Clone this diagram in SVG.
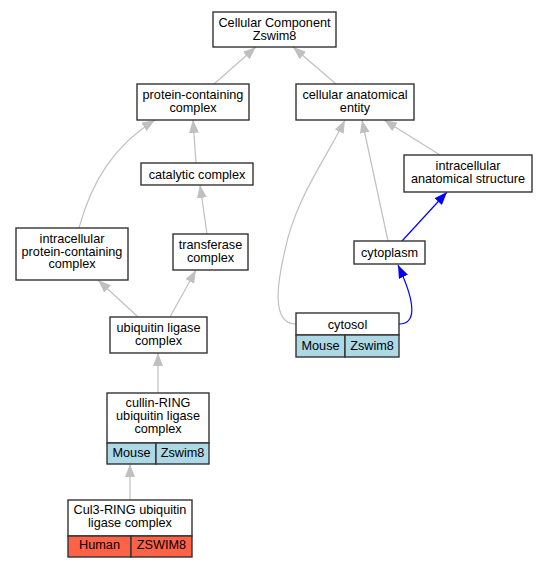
<svg xmlns="http://www.w3.org/2000/svg" width="548" height="568" viewBox="0 0 548 568">
<defs>
<style>
.n rect{fill:#fff;stroke:#333;stroke-width:1.4}
.n rect.m{fill:#add8e6}
.n rect.h{fill:#ff6347}
text{font-family:"Liberation Sans",Arial,sans-serif;font-size:12.7px;text-anchor:middle;fill:#000}
.e path{fill:none;stroke:#c0c0c0;stroke-width:1.2}
.e path.b{stroke:#0000ff}
</style>
<marker id="ag" markerUnits="userSpaceOnUse" viewBox="0 0 13 10" refX="13" refY="5" markerWidth="13" markerHeight="10" orient="auto"><path d="M0,0L13,5L0,10z" fill="#c0c0c0"/></marker>
<marker id="ab" markerUnits="userSpaceOnUse" viewBox="0 0 13 10" refX="13" refY="5" markerWidth="13" markerHeight="10" orient="auto"><path d="M0,0L13,5L0,10z" fill="#0000ff"/></marker>
</defs>
<rect width="548" height="568" fill="#fff"/>
<g class="e" id="edges">
<path d="M214,84L256,47" marker-end="url(#ag)"/>
<path d="M336,84L293,47" marker-end="url(#ag)"/>
<path d="M196,163L193,120" marker-end="url(#ag)"/>
<path d="M79,228C92,180 115,145 155,120" marker-end="url(#ag)"/>
<path d="M207,234L200,185" marker-end="url(#ag)"/>
<path d="M138,317L98,280" marker-end="url(#ag)"/>
<path d="M170,317L196,270" marker-end="url(#ag)"/>
<path d="M158,393L158,353" marker-end="url(#ag)"/>
<path d="M130,500L130,464" marker-end="url(#ag)"/>
<path d="M296,324C270,324 278,280 285,250C295,200 325,160 345,120" marker-end="url(#ag)"/>
<path d="M388,241L362,120" marker-end="url(#ag)"/>
<path d="M440,155L384,120" marker-end="url(#ag)"/>
<path class="b" d="M402,241L447,192" marker-end="url(#ab)"/>
<path class="b" d="M399,324C420,324 412,295 398,265" marker-end="url(#ab)"/>
</g>
<g class="n" id="n_cc"><rect x="213" y="12" width="123" height="35"/><text x="274.5" y="26.5">Cellular Component</text><text x="274.5" y="39.5">Zswim8</text></g>
<g class="n" id="n_pcc"><rect x="137" y="84" width="112" height="36"/><text x="193" y="99">protein-containing</text><text x="193" y="112">complex</text></g>
<g class="n" id="n_cae"><rect x="296" y="84" width="118" height="36"/><text x="355" y="99">cellular anatomical</text><text x="355" y="112">entity</text></g>
<g class="n" id="n_ias"><rect x="404" y="155" width="128" height="37"/><text x="468" y="170">intracellular</text><text x="468" y="183">anatomical structure</text></g>
<g class="n" id="n_cat"><rect x="141" y="163" width="112" height="22"/><text x="197" y="178.5">catalytic complex</text></g>
<g class="n" id="n_ipcc"><rect x="16" y="228" width="112" height="52"/><text x="72" y="243">intracellular</text><text x="72" y="255.5">protein-containing</text><text x="72" y="268">complex</text></g>
<g class="n" id="n_tc"><rect x="173" y="234" width="75" height="36"/><text x="210.5" y="249">transferase</text><text x="210.5" y="262">complex</text></g>
<g class="n" id="n_cyto"><rect x="354" y="241" width="71" height="23"/><text x="389.5" y="256.5">cytoplasm</text></g>
<g class="n" id="n_cytosol"><rect x="296" y="313" width="103" height="22"/><rect class="m" x="296" y="335" width="49" height="22"/><rect class="m" x="345" y="335" width="54" height="22"/><text x="347.5" y="328.5">cytosol</text><text x="320.5" y="350">Mouse</text><text x="372" y="350">Zswim8</text></g>
<g class="n" id="n_ulc"><rect x="110" y="317" width="97" height="36"/><text x="158.5" y="332">ubiquitin ligase</text><text x="158.5" y="345">complex</text></g>
<g class="n" id="n_crl"><rect x="107" y="393" width="102" height="50"/><rect class="m" x="107" y="443" width="49" height="21"/><rect class="m" x="156" y="443" width="53" height="21"/><text x="158" y="407">cullin-RING</text><text x="158" y="420">ubiquitin ligase</text><text x="158" y="433">complex</text><text x="131.5" y="457">Mouse</text><text x="182.5" y="457">Zswim8</text></g>
<g class="n" id="n_cul3"><rect x="68" y="500" width="124" height="36"/><rect class="h" x="68" y="536" width="63" height="21"/><rect class="h" x="131" y="536" width="61" height="21"/><text x="130" y="514">Cul3-RING ubiquitin</text><text x="130" y="526.5">ligase complex</text><text x="99.5" y="549">Human</text><text x="161.5" y="549">ZSWIM8</text></g>
</svg>
